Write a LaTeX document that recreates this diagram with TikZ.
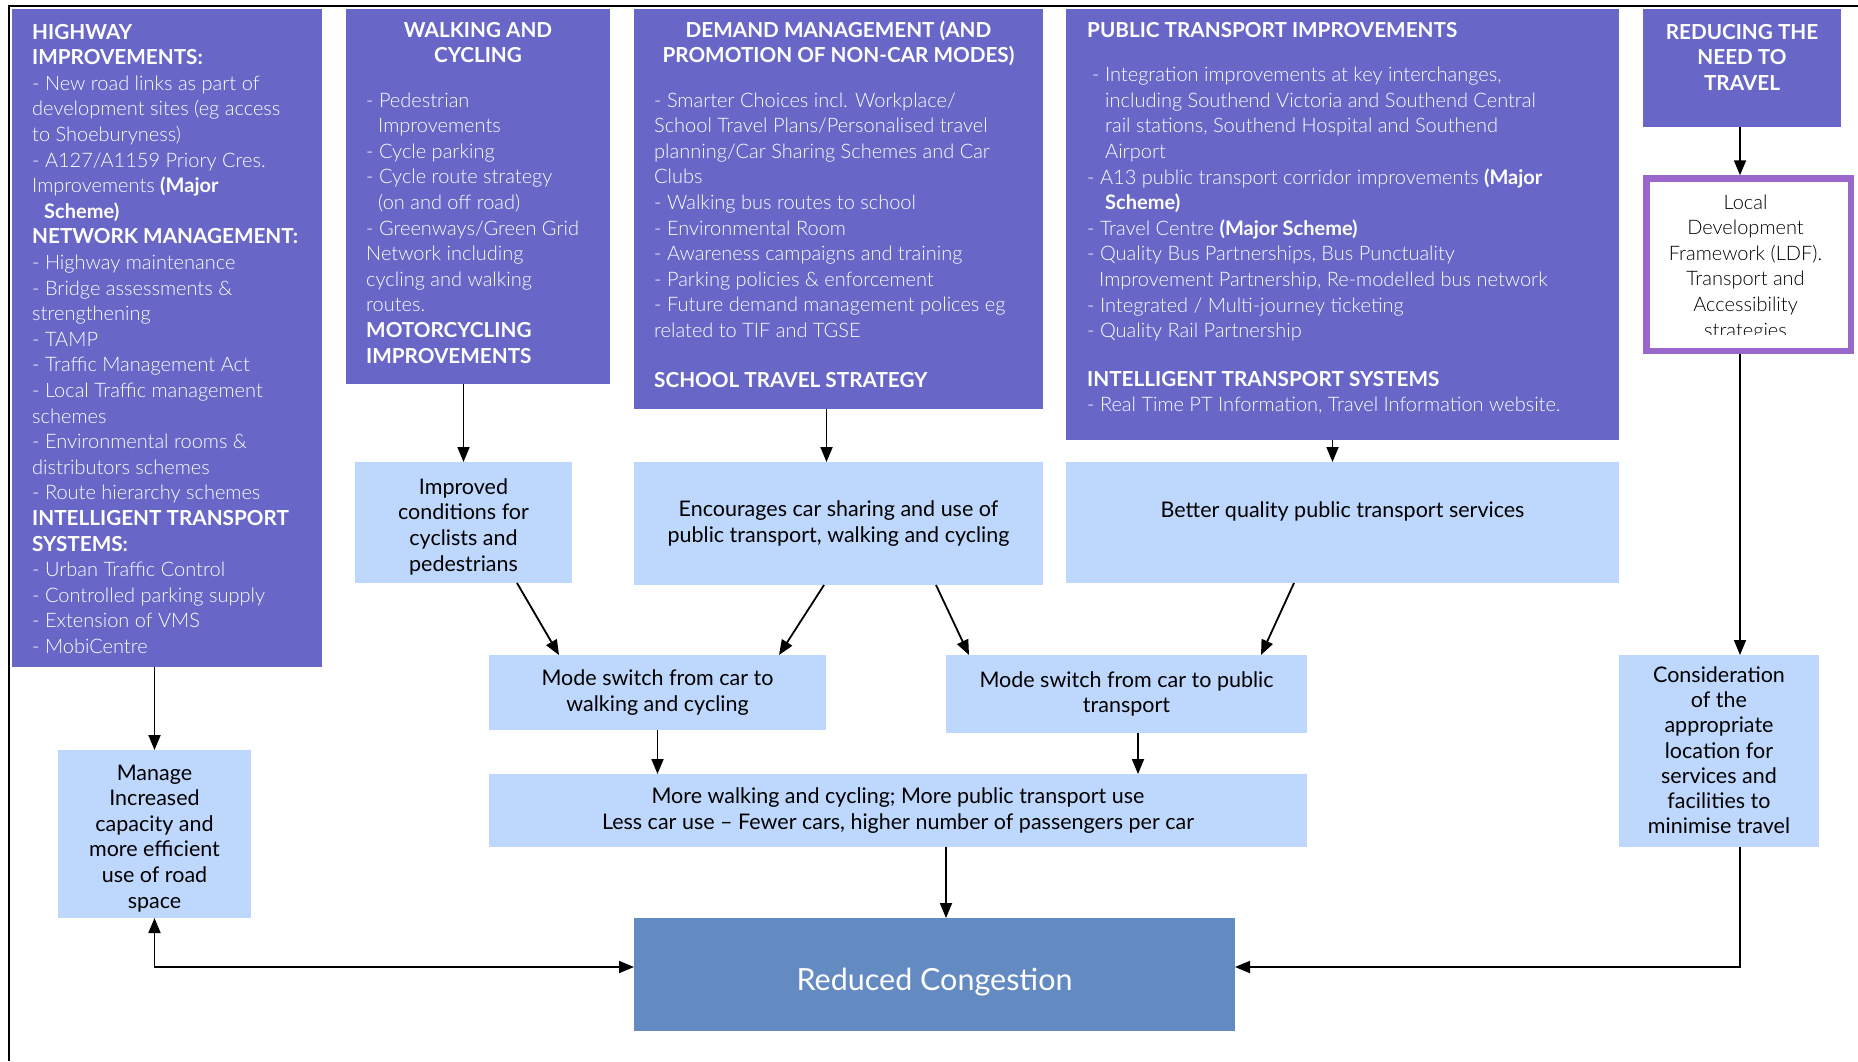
\documentclass[tikz,border=0pt]{standalone}
\usepackage{fontspec}
\setmainfont{Lato}
\IfFontExistsTF{Lato Light}{\newfontfamily\lightf{Lato Light}[BoldFont={Lato Bold}]}{\newfontfamily\lightf{Lato}}
\usetikzlibrary{arrows.meta}
\definecolor{purp}{RGB}{104,103,200}
\definecolor{lblue}{RGB}{190,215,252}
\definecolor{dblue}{RGB}{99,139,194}
\definecolor{ldfc}{RGB}{153,102,204}
\newcommand{\hd}[1]{{\fontsize{20.7}{25.6}\selectfont\bfseries #1}}
\newcommand{\lowerby}[2]{\raisebox{-#1}[\height][\depth]{#2}}
\begin{document}
\begin{tikzpicture}[x=1pt,y=-1pt,
  >={Triangle[length=15pt,width=12pt]},
  box/.style={anchor=north west, inner sep=0pt, outer sep=0pt},
  pbox/.style={box, fill=purp},
  lbox/.style={box, fill=lblue, align=center, text=black, font=\fontsize{21.5}{25.6}\selectfont},
  ptext/.style={anchor=north west, inner sep=0pt, align=left, text=white, font=\lightf\fontsize{20}{25.6}\selectfont},
  ptitle/.style={anchor=north, inner sep=0pt, align=center, text=white, font=\fontsize{20.7}{25.6}\selectfont\bfseries},
  arr/.style={draw=black, line width=1.8pt, ->},
]
\useasboundingbox[fill=white] (0,0) rectangle (1858,1061);
% frame
\draw[line width=2pt] (9,1061) -- (9,6) -- (1858,6);

% top purple boxes
\node[pbox, minimum width=310pt, minimum height=658pt] (hw) at (12,9) {};
\node[pbox, minimum width=264pt, minimum height=375pt] (wc) at (346,9) {};
\node[pbox, minimum width=409pt, minimum height=400pt] (dm) at (634,9) {};
\node[pbox, minimum width=553pt, minimum height=431pt] (pt) at (1066,9) {};
\node[pbox, minimum width=198pt, minimum height=118pt] (red) at (1643,9) {};

% LDF box
\node[box, draw=ldfc, fill=white, line width=6.5pt, outer sep=3.25pt,
      minimum width=204.5pt, minimum height=172.5pt] (ldf) at (1643.25,175.25) {};
\begin{scope}
\clip (1647,179) rectangle (1844,334);
\node[anchor=north, inner sep=0pt, align=center, font=\lightf\fontsize{20}{25.6}\selectfont] (ldft) at (1745.5,191)
  {\strut Local\\Development\\Framework (LDF).\\Transport and\\Accessibility\\strategies};
\end{scope}

% highway text
\node[ptext] (hwt) at (32,21) {\strut\hd{HIGHWAY}\\
\hd{IMPROVEMENTS:}\\
- New road links as part of\\
development sites (eg access\\
to Shoeburyness)\\
- A127/A1159 Priory Cres.\\
Improvements \textbf{(Major}\\
\hspace*{12pt}\textbf{Scheme)}\\
\hd{NETWORK MANAGEMENT:}\\
- Highway maintenance\\
- Bridge assessments \&\\
strengthening\\
- TAMP\\
- Traffic Management Act\\
- Local Traffic management\\
schemes\\
- Environmental rooms \&\\
distributors schemes\\
- Route hierarchy schemes\\
\hd{INTELLIGENT TRANSPORT}\\
\hd{SYSTEMS:}\\
- Urban Traffic Control\\
- Controlled parking supply\\
- Extension of VMS\\
- MobiCentre};

% walking and cycling
\node[ptitle] (wctt) at (478,19) {\strut WALKING AND\\CYCLING};
\node[ptext] (wct) at (366,89) {\strut - Pedestrian\\
\hspace*{12pt}Improvements\\
- Cycle parking\\
- Cycle route strategy\\
\hspace*{12pt}(on and off road)\\
- Greenways/Green Grid\\
Network including\\
cycling and walking\\
routes.\\
\hd{MOTORCYCLING}\\
\hd{IMPROVEMENTS}};

% demand management
\node[ptitle] (dmtt) at (838.5,19) {\strut DEMAND MANAGEMENT (AND\\PROMOTION OF NON-CAR MODES)};
\node[ptext] (dmt) at (654,89) {\strut - Smarter Choices incl. Workplace/\\
School Travel Plans/Personalised travel\\
planning/Car Sharing Schemes and Car\\
Clubs\\
- Walking bus routes to school\\
- Environmental Room\\
- Awareness campaigns and training\\
- Parking policies \& enforcement\\
- Future demand management polices eg\\
related to TIF and TGSE\\[24pt]
\hd{SCHOOL TRAVEL STRATEGY}};

% public transport
\node[ptext] (ptt) at (1087,19) {\strut\hd{PUBLIC TRANSPORT IMPROVEMENTS}\\[19pt]
\hspace*{5pt}- Integration improvements at key interchanges,\\
\hspace*{18pt}including Southend Victoria and Southend Central\\
\hspace*{18pt}rail stations, Southend Hospital and Southend\\
\hspace*{18pt}Airport\\
- A13 public transport corridor improvements \textbf{(Major}\\
\hspace*{18pt}\textbf{Scheme)}\\
- Travel Centre \textbf{(Major Scheme)}\\
- Quality Bus Partnerships, Bus Punctuality\\
\hspace*{12pt}Improvement Partnership, Re-modelled bus network\\
- Integrated / Multi-journey ticketing\\
- Quality Rail Partnership\\[23pt]
\hd{INTELLIGENT TRANSPORT SYSTEMS}\\
- Real Time PT Information, Travel Information website.};

% reducing need to travel
\node[ptitle] (redt) at (1742,21) {\strut REDUCING THE\\NEED TO\\TRAVEL};

% light blue boxes
\node[lbox, minimum width=217pt, minimum height=121pt] (imp) at (355,462) {\lowerby{5pt}{\begin{tabular}{@{}c@{}}Improved\\conditions for\\cyclists and\\pedestrians\end{tabular}}};
\node[lbox, minimum width=409pt, minimum height=123pt] (enc) at (634,462) {Encourages car sharing and use of\\public transport, walking and cycling};
\node[lbox, minimum width=553pt, minimum height=121pt] (bq) at (1066,462) {Better quality public transport services\\\mbox{}};
\node[lbox, minimum width=337pt, minimum height=75pt] (mw) at (489,655) {Mode switch from car to\\walking and cycling};
\node[lbox, minimum width=361pt, minimum height=78pt] (mpt) at (946,655) {Mode switch from car to public\\transport};
\node[lbox, minimum width=818pt, minimum height=73pt] (mwc) at (489,774) {More walking and cycling; More public transport use\\Less car use -- Fewer cars, higher number of passengers per car};
\node[lbox, minimum width=193pt, minimum height=168pt] (man) at (58,750) {\lowerby{5pt}{\begin{tabular}{@{}c@{}}Manage\\Increased\\capacity and\\more efficient\\use of road\\space\end{tabular}}};
\node[lbox, minimum width=200pt, minimum height=192pt, font=\fontsize{21.5}{25.3}\selectfont] (con) at (1619,655) {\lowerby{2pt}{\begin{tabular}{@{}c@{}}Consideration\\of the\\appropriate\\location for\\services and\\facilities to\\minimise travel\end{tabular}}};
\node[box, fill=dblue, text=white, minimum width=601pt, minimum height=113pt, font=\fontsize{30.5}{34}\selectfont] (rc) at (634,918) {\lowerby{8pt}{Reduced Congestion}};

% connectors
\draw[arr] (hw.south -| man.north) -- (man.north);
\draw[arr] (wc.south -| imp.north) -- (imp.north);
\draw[arr] ([xshift=-12pt]dm.south) -- ([xshift=-12pt]enc.north);
\draw[arr] ([xshift=-10pt]pt.south) -- ([xshift=-10pt]bq.north);
\draw[arr] ([xshift=-2pt]red.south) -- ([xshift=-2pt]red.south |- ldf.north);
\draw[arr] ([xshift=21pt]con.north |- ldf.south) -- ([xshift=21pt]con.north);
\draw[arr] ([xshift=53.5pt]imp.south) -- ([xshift=-98.5pt]mw.north);
\draw[arr] ([xshift=-14.5pt]enc.south) -- ([xshift=121.5pt]mw.north);
\draw[arr] ([xshift=97.5pt]enc.south) -- ([xshift=-157.5pt]mpt.north);
\draw[arr] ([xshift=-48.5pt]bq.south) -- ([xshift=134.5pt]mpt.north);
\draw[arr] (mw.south) -- (mw.south |- mwc.north);
\draw[arr] ([xshift=11.5pt]mpt.south) -- ([xshift=11.5pt]mpt.south |- mwc.north);
\draw[arr] ([xshift=48pt]mwc.south) -- ([xshift=48pt]mwc.south |- rc.north);
\draw[arr, <->] (man.south) |- ([yshift=7.5pt]rc.west);
\draw[arr] ([xshift=21pt]con.south) |- ([yshift=7.5pt]rc.east);
\end{tikzpicture}
\end{document}
